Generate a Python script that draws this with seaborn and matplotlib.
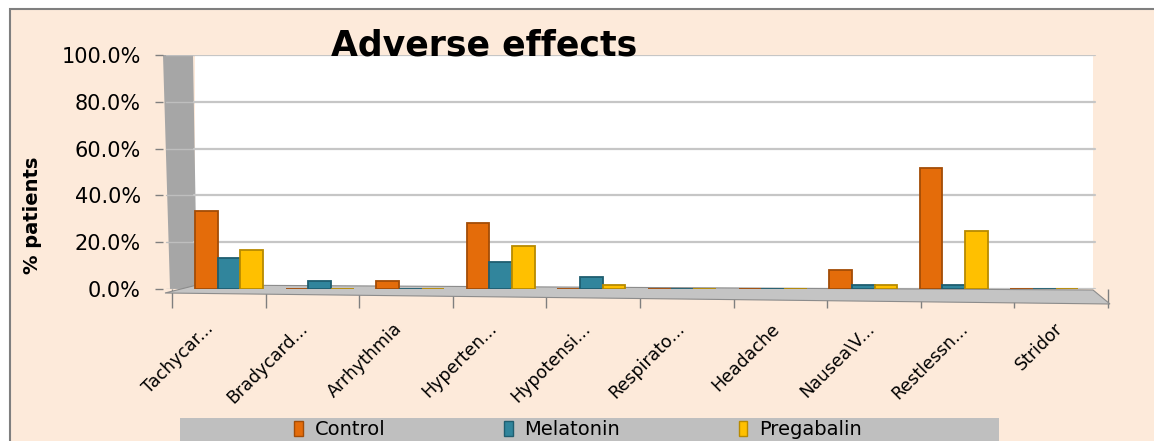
import numpy as np
import pandas as pd
import seaborn as sns
import matplotlib
matplotlib.use("Agg")
import matplotlib.pyplot as plt
from matplotlib.patches import Rectangle, Polygon
from matplotlib.ticker import FuncFormatter

# ---------------- data ----------------
effects = ["Tachycar...", "Bradycard...", "Arrhythmia", "Hyperten...", "Hypotensi...",
           "Respirato...", "Headache", "Nausea\\V...", "Restlessn...", "Stridor"]
groups = ["Control", "Melatonin", "Pregabalin"]
control = [33.3, 0.0, 3.3, 28.3, 0.0, 0.0, 0.0, 8.3, 51.7, 0.0]
melatonin = [13.3, 3.3, 0.0, 11.7, 5.0, 0.0, 0.0, 1.7, 1.7, 0.0]
pregabalin = [16.7, 0.0, 0.0, 18.3, 1.7, 0.0, 0.0, 1.7, 25.0, 0.0]
y_ticks = [0, 20, 40, 60, 80, 100]
title = "Adverse effects"
ylabel = "% patients"

# ---------------- style ----------------
face_colors = {"Control": "#E46C0A", "Melatonin": "#31859C", "Pregabalin": "#FFC000"}
edge_colors = ["#A34C06", "#1F5E70", "#B88A00"]

sns.set_theme(style="white")
plt.rcParams["font.family"] = ["DejaVu Sans"]
plt.rcParams.update({"text.color": "black", "axes.labelcolor": "black",
                     "xtick.color": "black", "ytick.color": "black"})

df = pd.DataFrame({
    "Effect": effects * 3,
    "Group": [g for g in groups for _ in effects],
    "Percent": control + melatonin + pregabalin,
})

W, H = 1154, 441
fig = plt.figure(figsize=(W / 100, H / 100), dpi=100, facecolor="white")

# outer chart area (peach with grey border)
fig.patches.append(Rectangle((10 / W, -0.05), 1.2, (H - 9) / H + 0.05,
                             transform=fig.transFigure, facecolor="#FDEADA",
                             edgecolor="#7F7F7F", lw=1.5, zorder=-2))

AX_L, AX_R, AX_T, AX_B = 163, 1112, 55, 289
ax = fig.add_axes([AX_L / W, (H - AX_B) / H, (AX_R - AX_L) / W, (AX_B - AX_T) / H])
ax.set_facecolor("none")
ax.set_zorder(2)


def A(px, py):
    return ((px - AX_L) / (AX_R - AX_L), (AX_B - py) / (AX_B - AX_T))


# white back wall
x0, _ = A(195, 0)
x1, _ = A(1093, 0)
ax.add_patch(Rectangle((x0, 0), x1 - x0, 1, transform=ax.transAxes,
                       facecolor="white", edgecolor="none", zorder=0))
# grey side wall
ax.add_patch(Polygon([A(163, 55), A(193, 55), A(197, 289), A(170, 289)],
                     closed=True, transform=ax.transAxes, facecolor="#A6A6A6",
                     edgecolor="none", zorder=0.5, clip_on=False))
# gridlines
gx0, _ = A(194, 0)
gx1, _ = A(1095, 0)
wx0, _ = A(166, 0)
for t in y_ticks:
    ax.axhline(t, xmin=gx0, xmax=gx1, color="#C6C6C6", lw=1.6, zorder=1)
    ax.axhline(t, xmin=wx0, xmax=gx0, color="#BEBEBE", lw=1.0, zorder=0.6)
# floor
ax.add_patch(Polygon([A(197, 285), A(1093, 290), A(1110, 304), A(165, 293)],
                     closed=True, transform=ax.transAxes, facecolor="#C4C4C4",
                     edgecolor="#8C8C8C", lw=0.8, zorder=1.5, clip_on=False))

sns.barplot(data=df, x="Effect", y="Percent", hue="Group", hue_order=groups,
            palette=face_colors, saturation=1, width=0.75, ax=ax)

for cont, ec in zip(ax.containers, edge_colors):
    for bar in cont:
        bar.set_edgecolor(ec)
        bar.set_linewidth(1.3)
        bar.set_zorder(3)

ax.set_xlim((AX_L - 229) / 90.6, (AX_R - 229) / 90.6)
ax.set_ylim(0, 100)
for s in ax.spines.values():
    s.set_visible(False)

# x ticks: labels on the front plane, tick marks between categories
label_pos = [(204 + 94.4 * i - 229) / 90.6 for i in range(len(effects))]
ax.set_xticks(label_pos)
ax.set_xticklabels(effects, rotation=45, ha="right", rotation_mode="anchor",
                   fontsize=12.5)
minor_pos = [(172 + 93.6 * k - 229) / 90.6 for k in range(len(effects) + 1)]
ax.set_xticks(minor_pos, minor=True)
ax.tick_params(axis="x", which="major", bottom=True, length=0, pad=22)
ax.tick_params(axis="x", which="minor", bottom=True, length=14, width=1,
               color="#7F7F7F")

ax.set_yticks(y_ticks)
ax.yaxis.set_major_formatter(FuncFormatter(lambda v, p: f"{v:.1f}%"))
ax.tick_params(axis="y", left=True, length=6, width=1, color="#7F7F7F", pad=10,
               labelsize=15)
ax.set_xlabel("")
ax.set_ylabel(ylabel, fontsize=14, fontweight="bold")
ax.yaxis.set_label_coords(A(42, 0)[0], A(0, 215)[1])

fig.text(331 / W, (H - 56) / H, title, fontsize=25, fontweight="bold",
         ha="left", va="baseline", zorder=5)

# legend band
fig.patches.append(Rectangle((180 / W, -0.1), (999 - 180) / W, (H - 418) / H + 0.1,
                             transform=fig.transFigure, facecolor="#BFBFBF",
                             edgecolor="none", zorder=-1))
handles, labels = ax.get_legend_handles_labels()
if ax.legend_ is not None:
    ax.legend_.remove()
leg = fig.legend(handles, labels, loc="upper left", bbox_to_anchor=(294 / W, (H - 420) / H),
                 ncol=3, frameon=False, fontsize=14, handlelength=0.45, handleheight=0.8,
                 handletextpad=0.6, columnspacing=6.1, borderpad=0, borderaxespad=0)
for h, ec in zip(leg.legend_handles, edge_colors):
    h.set_edgecolor(ec)

fig.savefig("out.png", dpi=100, facecolor=fig.get_facecolor())
